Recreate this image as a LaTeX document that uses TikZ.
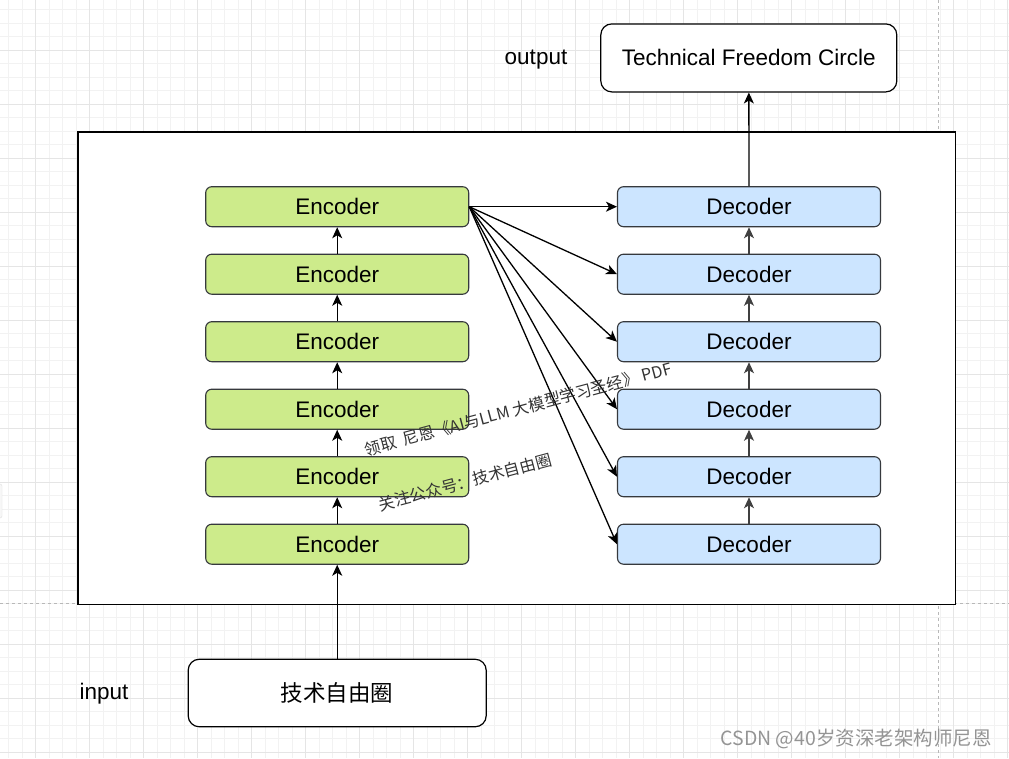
\documentclass[tikz,border=0pt]{standalone}
\usepackage{fontspec}
\setmainfont{Liberation Sans}
\newfontfamily\cjk{Noto Sans CJK SC}
\usetikzlibrary{arrows.meta}
\definecolor{encfill}{HTML}{CDEB8B}
\definecolor{decfill}{HTML}{CCE5FF}
\definecolor{boxline}{HTML}{36393D}
\begin{document}
\begin{tikzpicture}[x=1pt, y=-1pt,
				    block/.style={draw=boxline, rounded corners=6pt, line width=1.1pt,
				    			  minimum width=263pt, minimum height=40pt, inner sep=0pt,
				    			  text centered, text=black, font=\fontsize{22.5}{26}\selectfont},
				    enc/.style={block, fill=encfill},
				    dec/.style={block, fill=decfill},
				    io/.style={draw, fill=white, rounded corners=11pt, line width=1.2pt,
				    		   inner sep=0pt, font=\fontsize{22.5}{26}\selectfont},
				    lbl/.style={inner sep=0pt, font=\fontsize{22.5}{26}\selectfont},
				    wm/.style={inner sep=0pt, rotate=15, text=black!80,
				    		   font=\cjk\fontsize{16.2}{18}\selectfont},
				    arr/.style={-{Stealth[length=11pt, width=10pt, inset=3pt]}, line width=1.3pt},
				    gridminor/.style={black!5, line width=0.7pt},
				    gridmajor/.style={black!10, line width=0.7pt}]
	\useasboundingbox (0,0) rectangle (1009,758);
	\fill[white] (0,0) rectangle (1009,758);
	% grid
	\foreach \gx in {8.7,22.2,...,1009} \draw[gridminor] (\gx,0) -- (\gx,758);
	\foreach \gy in {9.5,23,...,758} \draw[gridminor] (0,\gy) -- (1009,\gy);
	\foreach \gx in {35.7,89.7,...,1009} \draw[gridmajor] (\gx,0) -- (\gx,758);
	\foreach \gy in {50,104,...,758} \draw[gridmajor] (0,\gy) -- (1009,\gy);
	\draw[black!28, dashed, line width=0.7pt] (0,603) -- (1009,603);
	\draw[black!28, dashed, line width=0.7pt] (938,0) -- (938,758);
	\draw[black!12, fill=black!3, rounded corners=2pt] (-6,484) rectangle (2,518);
	% frame
	\draw[line width=1.3pt, fill=white] (78,132) rectangle (955.5,604.5);

	\node[lbl] (outlbl) at (536, 60) {output};
	\node[io, minimum width=296pt, minimum height=68pt] (out) at (748.8, 57.9) {Technical Freedom Circle};
	\node[lbl] (inlbl) at (104, 694) {input};
	\node[io, minimum width=298pt, minimum height=67.5pt] (inp) at (337.2, 693) {\cjk 技术自由圈};

	\node[enc] (enc1) at (337.2, 544.2) {Encoder};
	\node[enc] (enc2) at (337.2, 476.7) {Encoder};
	\node[enc] (enc3) at (337.2, 409.2) {Encoder};
	\node[enc] (enc4) at (337.2, 341.7) {Encoder};
	\node[enc] (enc5) at (337.2, 274.2) {Encoder};
	\node[enc] (enc6) at (337.2, 206.7) {Encoder};

	\node[dec] (dec1) at (749, 544.2) {Decoder};
	\node[dec] (dec2) at (749, 476.7) {Decoder};
	\node[dec] (dec3) at (749, 409.2) {Decoder};
	\node[dec] (dec4) at (749, 341.7) {Decoder};
	\node[dec] (dec5) at (749, 274.2) {Decoder};
	\node[dec] (dec6) at (749, 206.7) {Decoder};

	\path[arr] 	(inp)  edge (enc1)
				(enc1) edge (enc2)
				(enc2) edge (enc3)
				(enc3) edge (enc4)
				(enc4) edge (enc5)
				(enc5) edge (enc6)
				(enc6.east) edge (dec6.west)
				(enc6.east) edge (dec5.west)
				(enc6.east) edge (dec4.west)
				(enc6.east) edge (dec3.west)
				(enc6.east) edge (dec2.west)
				(enc6.east) edge (dec1.west);
	\path[arr, black!75] (dec1) edge (dec2)
				(dec2) edge (dec3)
				(dec3) edge (dec4)
				(dec4) edge (dec5)
				(dec5) edge (dec6);
	\path[arr] (dec6) edge (out);

	\node[wm] (wm1) at (518, 409) {领取\ \ 尼恩《AI与LLM 大模型学习圣经》 PDF};
	\node[wm] (wm2) at (465, 482) {关注公众号：技术自由圈};
	\node[inner sep=0pt, text=black!42, font=\cjk\fontsize{19.5}{22}\selectfont] (csdn) at (856, 739) {CSDN @40岁资深老架构师尼恩};
\end{tikzpicture}
\end{document}
